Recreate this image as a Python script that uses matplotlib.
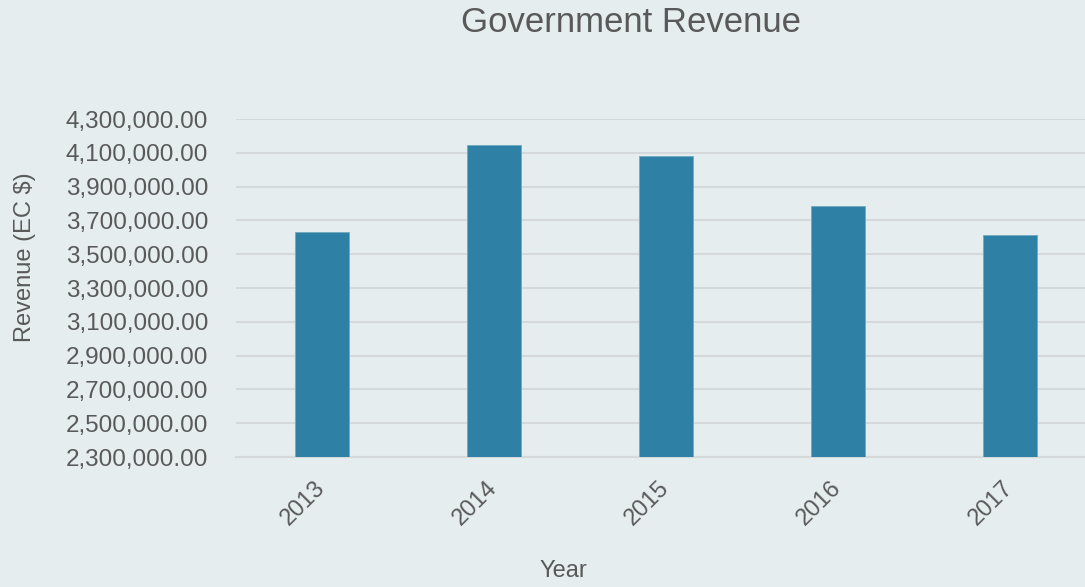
import matplotlib
matplotlib.use("Agg")
import matplotlib.pyplot as plt
from matplotlib.ticker import FuncFormatter, FixedLocator

years = ["2013", "2014", "2015", "2016", "2017"]
revenue = [3633000, 4148000, 4079000, 3788000, 3615000]
y_ticks = [2300000, 2500000, 2700000, 2900000, 3100000, 3300000,
           3500000, 3700000, 3900000, 4100000, 4300000]

bg = "#E5EDEF"
bar_color = "#2E81A5"
text_color = "#595959"
grid_color = "#D6D9DA"

plt.rcParams['font.family'] = ['Liberation Sans', 'DejaVu Sans']

fig = plt.figure(figsize=(10.85, 5.87), dpi=100, facecolor=bg)
ax = fig.add_axes([236/1085, 1-457/587, 1-236/1085, (457-119)/587], facecolor=bg)

x = list(range(len(years)))
ax.bar(x, revenue, width=0.31, color=bar_color, edgecolor="#6FA9C3", linewidth=0.6, zorder=3)

ax.set_ylim(y_ticks[0], y_ticks[-1])
ax.set_xlim(-0.5, 4.436)
ax.yaxis.set_major_locator(FixedLocator(y_ticks))
ax.yaxis.set_major_formatter(FuncFormatter(lambda v, p: f"{v:,.2f}"))
ax.grid(axis="y", color=grid_color, linewidth=1.5, zorder=0)
ax.set_xticks(x)
ax.set_xticklabels(years, rotation=45, ha="right", va="center", rotation_mode="anchor")

for s in ["top", "right", "left"]:
    ax.spines[s].set_visible(False)
ax.spines["bottom"].set_color(grid_color)
ax.spines["bottom"].set_linewidth(1.5)
ax.tick_params(axis="y", length=0, labelsize=17.5, labelcolor=text_color, pad=20)
ax.tick_params(axis="x", length=0, labelsize=17, labelcolor=text_color, pad=20)

fig.text(25/1085, 1-257/587, "Revenue (EC $)", fontsize=17, color=text_color,
         ha="center", va="center", rotation=90)
fig.text(563/1085, 1-571/587, "Year", fontsize=17, color=text_color, ha="center", va="center")
fig.text(631/1085, 1-22/587, "Government Revenue", fontsize=25, color=text_color, ha="center", va="center")

fig.savefig("out.png", dpi=100, facecolor=bg)
